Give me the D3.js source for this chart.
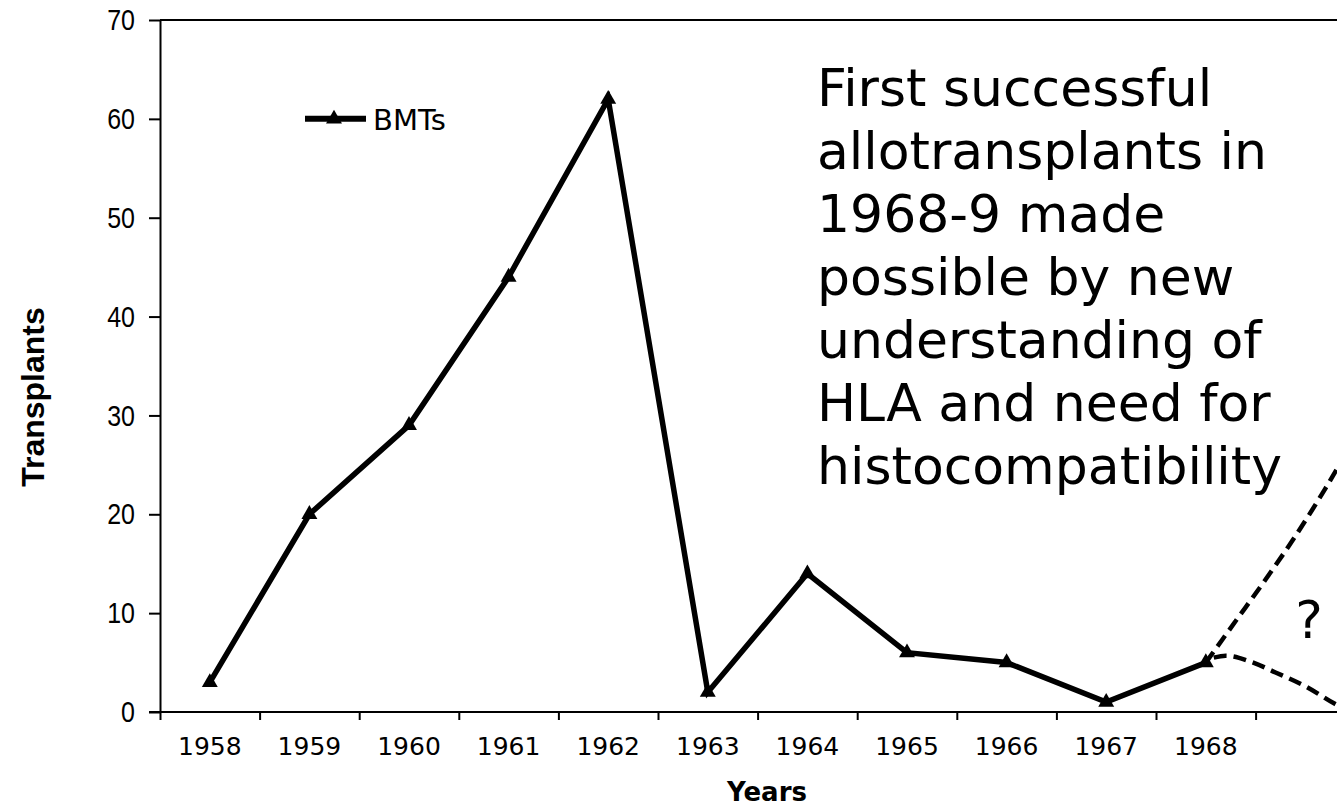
<!DOCTYPE html>
<html>
<head>
<meta charset="utf-8">
<script src="https://cdn.jsdelivr.net/npm/d3@7"></script>
<style>
  body { margin: 0; background: #fff; }
  svg { display: block; }
</style>
</head>
<body>
<svg></svg>
<script>
const width = 1337;
const height = 808;

// data
const years = ['1958', '1959', '1960', '1961', '1962', '1963', '1964', '1965', '1966', '1967', '1968', '1969'];
const yearLabels = ['1958', '1959', '1960', '1961', '1962', '1963', '1964', '1965', '1966', '1967', '1968', ''];
const bmts = [3, 20, 29, 44, 62, 2, 14, 6, 5, 1, 5];
const yTicks = [0, 10, 20, 30, 40, 50, 60, 70];
// speculative dashed continuations after 1968: [year index, transplants]
const trendUp = [[10, 5], [10.3, 9.2], [10.6, 13.4], [10.9, 17.8], [11.2, 22.6], [11.5, 27.8]];
const trendDown = [[10.08, 5.5], [10.2, 5.7], [10.45, 5.1], [10.7, 4.0], [11, 2.6], [11.3, 0.8], [11.45, 0]];
const noteLines = ['First successful', 'allotransplants in', '1968-9 made', 'possible by new',
    'understanding of', 'HLA and need for', 'histocompatibility'];

const plotLeft = 160;
const plotTop = 20;
const plotBottom = 712;
const step = 99.6;

const svg = d3.select('svg')
    .attr('width', width).attr('height', height);

const x = d3.scaleBand()
    .domain(years)
    .range([plotLeft, plotLeft + step * years.length])
    .padding(0);
// continuous index scale sharing the band range, for the marks
const xi = d3.scaleLinear()
    .domain([0, years.length])
    .range(x.range());
const y = d3.scaleLinear()
    .domain([0, 70])
    .range([plotBottom, plotTop]);

// top border of the plot area
svg.append('line')
    .attr('x1', plotLeft).attr('x2', width)
    .attr('y1', y(70)).attr('y2', y(70))
    .attr('stroke', '#000').attr('stroke-width', 2);

// y axis
const yAxis = svg.append('g')
    .attr('transform', `translate(${plotLeft},0)`)
    .call(d3.axisLeft(y).tickValues(yTicks).tickSize(11).tickSizeOuter(0).tickPadding(14));
yAxis.select('.domain').attr('stroke-width', 2);
yAxis.selectAll('.tick line').attr('stroke-width', 2);
// tick labels in the original are tall and narrow
yAxis.selectAll('.tick text')
    .style('font-family', '"Liberation Sans", Arial, sans-serif')
    .style('font-size', '25px')
    .attr('transform', 'scale(1,1.2)')
    .attr('fill', '#000');

// x axis: boundary ticks
const xTicks = svg.append('g')
    .attr('transform', `translate(0,${plotBottom})`)
    .call(d3.axisBottom(xi).tickValues(d3.range(years.length + 1)).tickSize(8).tickSizeOuter(0).tickFormat(''));
xTicks.select('.domain').remove();
xTicks.selectAll('.tick line').attr('stroke-width', 2);
svg.append('line')
    .attr('x1', plotLeft - 11).attr('x2', width)
    .attr('y1', plotBottom).attr('y2', plotBottom)
    .attr('stroke', '#000').attr('stroke-width', 2);

// x axis: category labels
const xLabels = svg.append('g')
    .attr('transform', `translate(0,${plotBottom})`)
    .call(d3.axisBottom(x).tickSize(0).tickPadding(25).tickFormat((d, i) => yearLabels[i]));
xLabels.select('.domain').remove();
xLabels.selectAll('.tick text')
    .style('font-family', '"DejaVu Sans", Verdana, sans-serif')
    .style('font-size', '25px')
    .attr('fill', '#000');

// axis titles
svg.append('text')
    .attr('x', 767).attr('y', 801)
    .attr('text-anchor', 'middle')
    .style('font-family', '"DejaVu Sans", Verdana, sans-serif')
    .style('font-size', '26px')
    .style('font-weight', 'bold')
    .text('Years');
svg.append('text')
    .attr('transform', 'translate(44,397) rotate(-90)')
    .attr('text-anchor', 'middle')
    .style('font-family', '"Liberation Sans", Arial, sans-serif')
    .style('font-size', '32px')
    .style('font-weight', 'bold')
    .text('Transplants');

// dashed speculative lines
const trendLine = d3.line()
    .x(d => xi(d[0] + 0.5))
    .y(d => y(d[1]))
    .curve(d3.curveMonotoneX);
[trendUp, trendDown].forEach(t => {
    svg.append('path')
        .datum(t)
        .attr('d', trendLine)
        .attr('fill', 'none')
        .attr('stroke', '#000')
        .attr('stroke-width', 4.5)
        .attr('stroke-dasharray', '13,7');
});

// BMT series
const line = d3.line()
    .x((d, i) => x(years[i]) + x.bandwidth() / 2)
    .y(d => y(d));
svg.append('path')
    .datum(bmts)
    .attr('d', line)
    .attr('fill', 'none')
    .attr('stroke', '#000')
    .attr('stroke-width', 5.5);

const tri = d3.symbol().type(d3.symbolTriangle).size(110);
svg.selectAll('.marker')
    .data(bmts)
    .enter().append('path')
    .attr('class', 'marker')
    .attr('d', tri)
    .attr('transform', (d, i) => `translate(${x(years[i]) + x.bandwidth() / 2},${y(d)})`)
    .attr('fill', '#000');

// legend
const legend = svg.append('g').attr('transform', `translate(305,${y(60)})`);
legend.append('line')
    .attr('x1', 0).attr('x2', 61)
    .attr('stroke', '#000').attr('stroke-width', 6);
legend.append('path')
    .attr('d', tri)
    .attr('transform', 'translate(29,0)')
    .attr('fill', '#000');
legend.append('text')
    .attr('x', 68).attr('y', 11)
    .style('font-family', '"DejaVu Sans", Verdana, sans-serif')
    .style('font-size', '29px')
    .text('BMTs');

// annotation
const note = svg.append('text')
    .attr('x', 817).attr('y', 106)
    .style('font-family', '"DejaVu Sans", Verdana, sans-serif')
    .style('font-size', '52px')
    .attr('fill', '#000');
note.selectAll('tspan')
    .data(noteLines)
    .enter().append('tspan')
    .attr('x', 817)
    .attr('dy', (d, i) => i === 0 ? 0 : 63)
    .text(d => d);

svg.append('text')
    .attr('x', 1309).attr('y', 638)
    .attr('text-anchor', 'middle')
    .style('font-family', '"DejaVu Sans", Verdana, sans-serif')
    .style('font-size', '52px')
    .text('?');
</script>
</body>
</html>
